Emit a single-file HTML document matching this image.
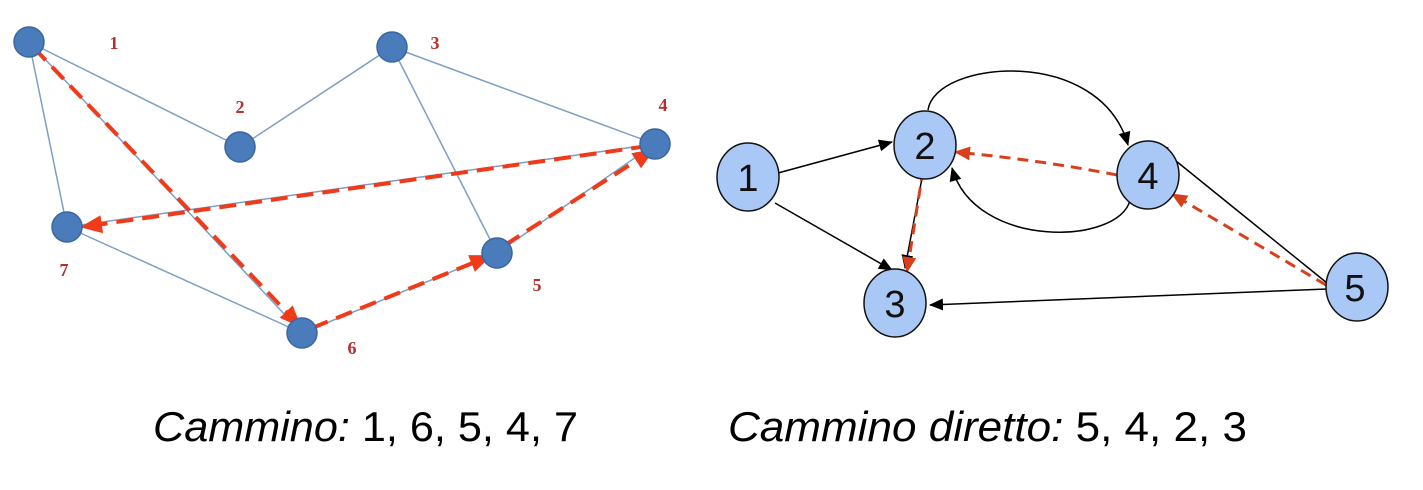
<!DOCTYPE html>
<html><head><style>body{margin:0;background:#fff;}svg{display:block}</style></head><body>
<svg width="1423" height="490" viewBox="0 0 1423 490" xmlns="http://www.w3.org/2000/svg">
<defs>
<marker id="rb" markerWidth="22" markerHeight="22" refX="20" refY="11" orient="auto" markerUnits="userSpaceOnUse"><path d="M0,2 L22,11 L0,20z" fill="#f03a1a"/></marker>
<marker id="ka" markerWidth="14" markerHeight="14" refX="13" refY="7" orient="auto" markerUnits="userSpaceOnUse"><path d="M0,1 L14,7 L0,13z" fill="#000"/></marker>
<marker id="rc" markerWidth="16" markerHeight="16" refX="15" refY="8" orient="auto" markerUnits="userSpaceOnUse"><path d="M0,1 L16,8 L0,15z" fill="#d8401c"/></marker>
</defs>
<!-- left graph -->
<g stroke="#7d9fc4" stroke-width="1.5" fill="none">
<line x1="29" y1="42" x2="240" y2="147"/><line x1="240" y1="147" x2="392" y2="47"/>
<line x1="392" y1="47" x2="655" y2="144"/><line x1="392" y1="47" x2="497" y2="253"/>
<line x1="29" y1="42" x2="67" y2="227"/><line x1="29" y1="42" x2="302" y2="333"/>
<line x1="67" y1="227" x2="302" y2="333"/><line x1="302" y1="333" x2="497" y2="253"/>
<line x1="497" y1="253" x2="655" y2="144"/><line x1="655" y1="144" x2="67" y2="227"/>
</g>
<g stroke="#f03a1a" stroke-width="4" fill="none" stroke-dasharray="17,9" marker-end="url(#rb)">
<line x1="34" y1="48" x2="300" y2="326"/>
<line x1="312" y1="328" x2="490" y2="256"/>
<line x1="505" y1="245" x2="653" y2="150"/>
<line x1="648" y1="146" x2="82" y2="227"/>
</g>
<g fill="#4a7bba" stroke="#3a669f" stroke-width="1.5">
<circle cx="29" cy="42" r="15"/><circle cx="240" cy="147" r="15"/>
<circle cx="392" cy="47" r="15"/><circle cx="655" cy="144" r="15"/>
<circle cx="67" cy="227" r="15"/><circle cx="497" cy="253" r="15"/>
<circle cx="302" cy="333" r="15"/>
</g>
<g fill="#b5302a" font-family="Liberation Serif, serif" font-weight="bold" font-size="18" text-anchor="middle">
<text x="114" y="49">1</text><text x="240" y="113">2</text><text x="435" y="49">3</text>
<text x="663" y="111">4</text><text x="64" y="276">7</text><text x="537" y="291">5</text><text x="352" y="354">6</text>
</g>
<!-- right graph -->
<g stroke="#000" stroke-width="1.5" fill="none" marker-end="url(#ka)">
<line x1="778" y1="173" x2="892" y2="142"/>
<line x1="775" y1="203" x2="892" y2="270"/>
<line x1="922" y1="178" x2="905" y2="268"/>
<line x1="1327" y1="289" x2="930" y2="305"/>
<line x1="1327" y1="283" x2="1155" y2="144"/>
<path d="M928,110 C935,60 1100,45 1128,145"/>
<path d="M1130,200 C1120,245 975,250 952,168"/>
</g>
<g stroke="#d8401c" stroke-width="3" fill="none" stroke-dasharray="11,7" marker-end="url(#rc)">
<path d="M1117,175 Q1040,160 955,152"/>
<line x1="923" y1="170" x2="907" y2="272"/>
<line x1="1326" y1="285" x2="1172" y2="194"/>
</g>
<g fill="#a9c8f5" stroke="#111" stroke-width="1.5">
<ellipse cx="748" cy="177" rx="31" ry="34"/><ellipse cx="925" cy="145" rx="31" ry="34"/>
<ellipse cx="895" cy="303" rx="31" ry="34"/><ellipse cx="1148" cy="175" rx="31" ry="34"/>
<ellipse cx="1357" cy="287" rx="31" ry="34"/>
</g>
<g fill="#111" font-family="Liberation Sans, sans-serif" font-size="38" text-anchor="middle">
<text x="748" y="191">1</text><text x="925" y="159">2</text><text x="895" y="317">3</text>
<text x="1148" y="189">4</text><text x="1355" y="301">5</text>
</g>
<g fill="#000" font-family="Liberation Sans, sans-serif" font-size="42">
<text x="153" y="441" textLength="425" lengthAdjust="spacingAndGlyphs"><tspan font-style="italic">Cammino:</tspan> 1, 6, 5, 4, 7</text>
<text x="728" y="441" textLength="519" lengthAdjust="spacingAndGlyphs"><tspan font-style="italic">Cammino diretto:</tspan> 5, 4, 2, 3</text>
</g>
</svg>
</body></html>
